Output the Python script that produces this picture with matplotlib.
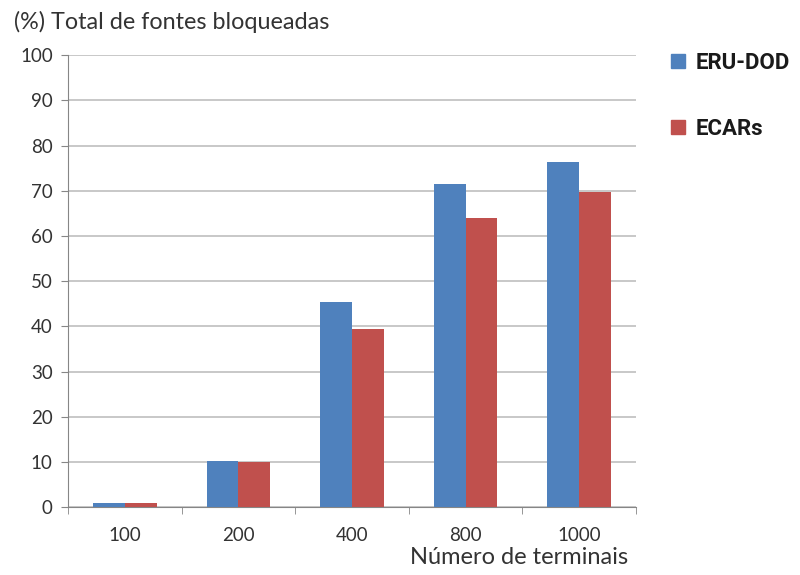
import numpy as np
import matplotlib.pyplot as plt
from matplotlib.patches import Patch

# --- dades ---
terminais = ['100', '200', '400', '800', '1000']
eru_dod = [1.0, 10.3, 45.4, 71.5, 76.4]
ecars = [1.0, 10.0, 39.5, 63.9, 69.8]

BLUE = '#4F81BD'
RED = '#C0504D'
GRID = '#BFBFBF'
TXT = '#333333'

plt.rcParams['font.family'] = ['Lato', 'DejaVu Sans']

fig = plt.figure(figsize=(8, 5.75), dpi=100)
ax = fig.add_axes([0.085, 0.118, 0.71, 0.786])

x = np.arange(len(terminais))
w = 0.28
ax.bar(x - w / 2, eru_dod, w, color=BLUE, zorder=3)
ax.bar(x + w / 2, ecars, w, color=RED, zorder=3)

ax.set_xlim(-0.5, len(terminais) - 0.5)
ax.set_ylim(0, 100)
ax.set_yticks(np.arange(0, 101, 10))
ax.set_xticks(x)
ax.set_xticklabels(terminais)
ax.set_xticks(np.arange(-0.5, len(terminais), 1), minor=True)

ax.yaxis.grid(True, color=GRID, linewidth=1.2, zorder=0)
for s in ['top', 'right']:
    ax.spines[s].set_visible(False)
ax.spines['left'].set_color('#868686')
ax.spines['bottom'].set_color('#868686')

ax.tick_params(axis='y', colors='#868686', labelcolor=TXT, labelsize=13.5, length=5, pad=6)
ax.tick_params(axis='x', which='major', length=0, labelcolor=TXT, labelsize=13.5, pad=14)
ax.tick_params(axis='x', which='minor', length=5, color='#868686')

fig.text(0.018, 0.962, '(%) Total de fontes bloqueadas', fontsize=16.8, color=TXT, va='center')
fig.text(0.785, 0.012, 'Número de terminais', fontsize=17, color=TXT, ha='right', va='bottom')

handles = [Patch(color=BLUE, label='ERU-DOD'), Patch(color=RED, label='ECARs')]
leg = fig.legend(handles=handles, loc='upper left', bbox_to_anchor=(0.817, 0.94),
                 frameon=False, labelspacing=1.95, handlelength=0.6, handleheight=0.6,
                 handletextpad=0.5, borderpad=0.3,
                 prop={'family': 'Roboto', 'weight': 'bold', 'size': 16})
for t in leg.get_texts():
    t.set_color('#1a1a1a')

plt.savefig('out.png', dpi=100, facecolor='white')
